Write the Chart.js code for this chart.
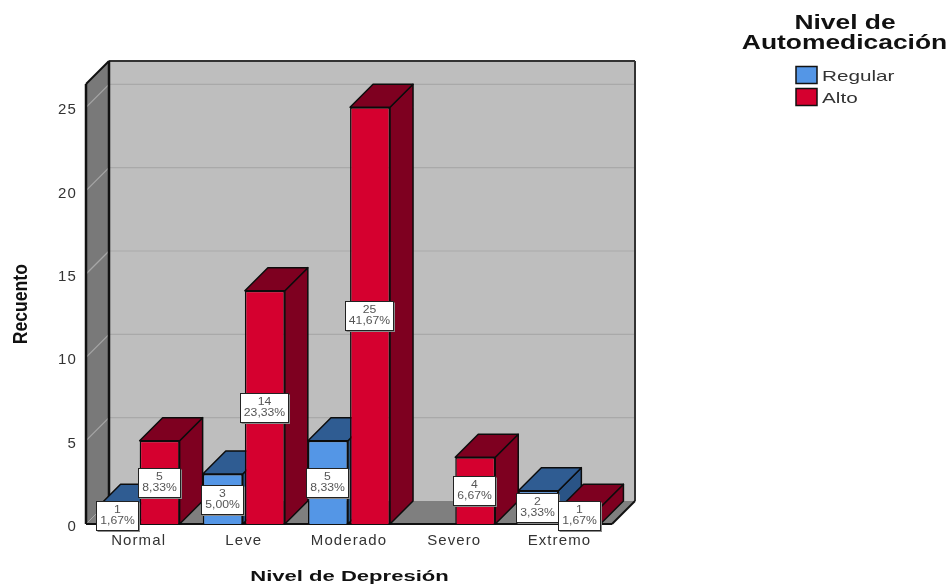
<!DOCTYPE html>
<html>
<head>
<meta charset="utf-8">
<style>html,body{margin:0;padding:0;background:#fff}canvas{display:block;filter:blur(0.35px)}</style>
<script src="https://cdn.jsdelivr.net/npm/chart.js@4"></script>
</head>
<body>
<canvas id="c" width="951" height="584"></canvas>
<script>
const categories = ["Normal", "Leve", "Moderado", "Severo", "Extremo"];
const regularValues = [1, 3, 5, null, 2];
const altoValues = [5, 14, 25, 4, 1];
const regularPercents = ["1,67%", "5,00%", "8,33%", "", "3,33%"];
const altoPercents = ["8,33%", "23,33%", "41,67%", "6,67%", "1,67%"];
const seriesNames = ["Regular", "Alto"];
const legendTitle = ["Nivel de", "Automedicación"];

const DEPTH = 23;
const faces = {
  Regular: {front: "#5496E6", top: "#2F5C92", side: "#2A5486"},
  Alto: {front: "#D5002F", top: "#7E0020", side: "#7E0020"}
};
const percents = [regularPercents, altoPercents];

function poly(ctx, pts, fill, stroke, lw) {
  ctx.beginPath();
  pts.forEach((p, i) => i ? ctx.lineTo(p[0], p[1]) : ctx.moveTo(p[0], p[1]));
  ctx.closePath();
  if (fill) { ctx.fillStyle = fill; ctx.fill(); }
  if (stroke) { ctx.strokeStyle = stroke; ctx.lineWidth = lw; ctx.stroke(); }
}
function line(ctx, a, b, c, w) {
  ctx.beginPath(); ctx.moveTo(a[0], a[1]); ctx.lineTo(b[0], b[1]);
  ctx.strokeStyle = c; ctx.lineWidth = w; ctx.stroke();
}
function stretchedText(ctx, text, cx, cy, font, color, sx) {
  ctx.save();
  ctx.letterSpacing = "0px";
  ctx.font = font; ctx.fillStyle = color;
  ctx.textAlign = "center"; ctx.textBaseline = "middle";
  ctx.translate(cx, cy); ctx.scale(sx, 1);
  ctx.fillText(text, 0, 0);
  ctx.restore();
}

const scene = {
  id: "scene",
  beforeDraw(chart) {
    const {ctx, chartArea: a, scales} = chart;
    ctx.letterSpacing = "1.1px";
    const wrap = (s, fn) => {
      if (s._wrapped) return;
      s._wrapped = true;
      const orig = s.drawTitle.bind(s);
      s.drawTitle = function () { ctx.save(); ctx.letterSpacing = "0px"; fn(); orig(); ctx.restore(); };
    };
    wrap(scales.x, () => {
      const cx = 348;
      ctx.translate(cx, 2); ctx.scale(1.47, 1); ctx.translate(-cx, 0);
    });
    wrap(scales.y, () => {
      const cy = 305;
      ctx.translate(0, cy); ctx.scale(1, 0.88); ctx.translate(0, -cy);
    });
    ctx.save();
    const L = a.left, R = a.right, T = a.top, B = a.bottom, D = DEPTH;
    poly(ctx, [[L + D, T - D], [R + D, T - D], [R + D, B - D], [L + D, B - D]], "#BEBEBE");
    poly(ctx, [[L, T], [L + D, T - D], [L + D, B - D], [L, B]], "#797979");
    poly(ctx, [[L, B], [R, B], [R + D, B - D], [L + D, B - D]], "#7F7F7F");
    scales.y.ticks.forEach(t => {
      const y = scales.y.getPixelForValue(t.value);
      if (t.value === 0) return;
      line(ctx, [L + D, y - D], [R + D, y - D], "#A9A9A9", 1.2);
      line(ctx, [L, y], [L + D, y - D], "#A6A6A6", 1.2);
    });
    line(ctx, [L, B], [L + D, B - D], "#A6A6A6", 1);
    line(ctx, [L + D, T - D], [R + D, T - D], "#333", 2);
    line(ctx, [R + D, T - D], [R + D, B - D], "#333", 2);
    line(ctx, [L, T], [L, B], "#111", 2.5);
    line(ctx, [L + D, T - D], [L + D, B - D], "#111", 2.5);
    line(ctx, [L, T], [L + D, T - D], "#111", 2);
    line(ctx, [L, B], [R, B], "#111", 2);
    line(ctx, [R, B], [R + D, B - D], "#111", 2);
    ctx.restore();
  },
  beforeDatasetsDraw(chart) {
    const {ctx} = chart;
    ctx.save();
    ctx.lineJoin = "round";
    chart.data.labels.forEach((_, i) => {
      chart.data.datasets.forEach((ds, d) => {
        const el = chart.getDatasetMeta(d).data[i];
        if (ds.data[i] == null) return;
        const f = faces[ds.label];
        const l = el.x - el.width / 2, r = el.x + el.width / 2, t = el.y, b = el.base;
        poly(ctx, [[r, t], [r + DEPTH, t - DEPTH], [r + DEPTH, b - DEPTH], [r, b]], f.side, "#0c0c0c", 1.5);
        poly(ctx, [[l, t], [l + DEPTH, t - DEPTH], [r + DEPTH, t - DEPTH], [r, t]], f.top, "#0c0c0c", 1.5);
      });
    });
    ctx.restore();
  },
  afterDatasetsDraw(chart) {
    const {ctx} = chart;
    ctx.save();
    chart.data.labels.forEach((_, i) => {
      chart.data.datasets.forEach((ds, d) => {
        if (ds.data[i] == null) return;
        const el = chart.getDatasetMeta(d).data[i];
        const cx = el.x, cy = (el.y + el.base) / 2;
        const pct = percents[d][i];
        const w = pct.length > 5 ? 48 : 42, h = 29;
        const x = Math.round(cx - w / 2) - 0.5, y = Math.round(cy - h / 2) + 0.5;
        ctx.fillStyle = "#8a8a8a";
        ctx.fillRect(x + 1, y + 1, w + 0.5, h + 0.5);
        ctx.fillStyle = "#fff";
        ctx.fillRect(x, y, w, h);
        ctx.strokeStyle = "#222"; ctx.lineWidth = 1;
        ctx.strokeRect(x, y, w, h);
        const font = "10px 'Liberation Sans'";
        stretchedText(ctx, String(ds.data[i]), x + w / 2, y + 9, font, "#555", 1.22);
        stretchedText(ctx, pct, x + w / 2, y + 19.5, font, "#555", 1.22);
      });
    });
    ctx.restore();
    ctx.save();
    const tf = "bold 20px 'Liberation Sans'";
    stretchedText(ctx, legendTitle[0], 845, 23, tf, "#111", 1.32);
    stretchedText(ctx, legendTitle[1], 844.5, 43, tf, "#111", 1.32);
    ctx.letterSpacing = "0px";
    seriesNames.forEach((n, i) => {
      const y = 66.5 + i * 22;
      ctx.fillStyle = faces[n].front;
      ctx.fillRect(796, y, 21, 17);
      ctx.strokeStyle = "#111"; ctx.lineWidth = 1.5;
      ctx.strokeRect(796, y, 21, 17);
      ctx.save();
      ctx.font = "15px 'Liberation Sans'"; ctx.fillStyle = "#333";
      ctx.textAlign = "left"; ctx.textBaseline = "middle";
      ctx.translate(822, y + 10); ctx.scale(1.38, 1);
      ctx.fillText(n, 0, 0);
      ctx.restore();
    });
    ctx.restore();
  }
};

new Chart(document.getElementById("c"), {
  type: "bar",
  data: {
    labels: categories,
    datasets: [
      {label: seriesNames[0], data: regularValues, backgroundColor: faces.Regular.front, borderColor: "#0c0c0c", borderWidth: 1.5},
      {label: seriesNames[1], data: altoValues, backgroundColor: faces.Alto.front, borderColor: "#0c0c0c", borderWidth: 1.5}
    ]
  },
  options: {
    responsive: false,
    animation: false,
    events: [],
    layout: {padding: {left: 0, top: 84, right: 339, bottom: 0}},
    datasets: {bar: {categoryPercentage: 0.8, barPercentage: 0.95}},
    plugins: {legend: {display: false}, tooltip: {enabled: false}, title: {display: false}},
    scales: {
      x: {
        grid: {display: false},
        border: {display: false},
        afterFit(s) { s.height = 60; },
        ticks: {padding: 0, color: "#333", font: {family: "'Liberation Sans'", size: 15}, maxRotation: 0, autoSkip: false},
        title: {display: true, text: "Nivel de Depresión", color: "#111", font: {family: "'Liberation Sans'", size: 15, weight: "bold"}, padding: {top: 0, bottom: 0}}
      },
      y: {
        min: 0,
        max: 26.4,
        grid: {display: false},
        border: {display: false},
        afterFit(s) { s.width = 86; },
        ticks: {stepSize: 5, includeBounds: false, padding: 1, labelOffset: 3, color: "#333", font: {family: "'Liberation Sans'", size: 15}},
        title: {display: true, text: "Recuento", color: "#111", font: {family: "'Liberation Sans'", size: 20, weight: "bold"}, padding: {top: 9, bottom: 0}}
      }
    }
  },
  plugins: [scene]
});
</script>
</body>
</html>
